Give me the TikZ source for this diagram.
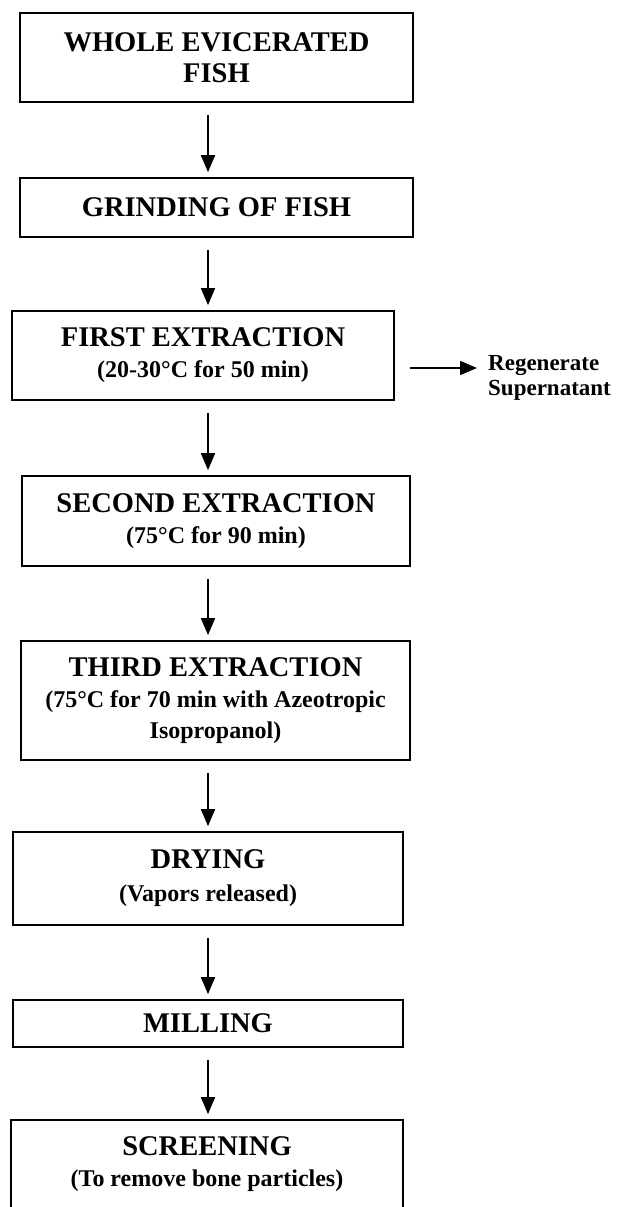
\documentclass[tikz,border=0pt]{standalone}
\usepackage{fontspec}
\setmainfont{Liberation Serif}
\usetikzlibrary{arrows.meta}
\newcommand\hdtext[1]{{\fontsize{28.5}{31}\selectfont #1}}
\begin{document}
\begin{tikzpicture}[x=1pt,y=-1pt,
  box/.style={draw, line width=1.7pt, inner sep=0pt, align=center,
    font=\fontsize{24}{31}\selectfont\bfseries},
  arr/.style={line width=1.7pt, -{Triangle[length=17pt,width=14pt]}},
  side/.style={inner sep=0pt, align=left, anchor=west,
    font=\fontsize{23}{25}\selectfont\bfseries}]
\useasboundingbox (0,0) rectangle (632,1207);
\node[box, minimum width=393pt, minimum height=89pt] (b1) at (216.5,57.5)
  {\hdtext{WHOLE EVICERATED}\\\hdtext{FISH}};
\node[box, minimum width=393pt, minimum height=59pt] (b2) at (216.5,207.5)
  {\hdtext{GRINDING OF FISH}};
\node[box, minimum width=382pt, minimum height=89pt] (b3) at (203,355.5)
  {\hdtext{FIRST EXTRACTION}\\(20-30°C for 50 min)};
\node[box, minimum width=388pt, minimum height=90pt] (b4) at (216,521)
  {\hdtext{SECOND EXTRACTION}\\(75°C for 90 min)};
\node[box, minimum width=389pt, minimum height=119pt] (b5) at (215.5,700.5)
  {\hdtext{THIRD EXTRACTION}\\(75°C for 70 min with Azeotropic\\Isopropanol)};
\node[box, minimum width=390pt, minimum height=93pt] (b6) at (208,878.5)
  {\hdtext{DRYING}\\[2pt](Vapors released)};
\node[box, minimum width=390pt, minimum height=47pt] (b7) at (208,1023.5)
  {\hdtext{MILLING}};
\node[box, minimum width=392pt, minimum height=89pt] (b8) at (207,1164.5)
  {\hdtext{SCREENING}\\(To remove bone particles)};
\node[side] (rt) at (488,377.5) {Regenerate\\Supernatant};
\draw[arr] ([xshift=-8.5pt,yshift=-12pt]b1.south) -- ([xshift=-8.5pt,yshift=5pt]b2.north);
\draw[arr] ([xshift=-8.5pt,yshift=-12pt]b2.south) -- ([xshift=5pt,yshift=5pt]b3.north);
\draw[arr] ([xshift=5pt,yshift=-12pt]b3.south) -- ([xshift=-8pt,yshift=5pt]b4.north);
\draw[arr] ([xshift=-8pt,yshift=-12pt]b4.south) -- ([xshift=-7.5pt,yshift=5pt]b5.north);
\draw[arr] ([xshift=-7.5pt,yshift=-12pt]b5.south) -- ([yshift=5pt]b6.north);
\draw[arr] ([yshift=-12pt]b6.south) -- ([yshift=5pt]b7.north);
\draw[arr] ([yshift=-12pt]b7.south) -- ([xshift=1pt,yshift=5pt]b8.north);
\draw[arr] ([xshift=15pt,yshift=-12.5pt]b3.east) -- ([xshift=-11pt,yshift=9.5pt]rt.west);
\end{tikzpicture}
\end{document}
